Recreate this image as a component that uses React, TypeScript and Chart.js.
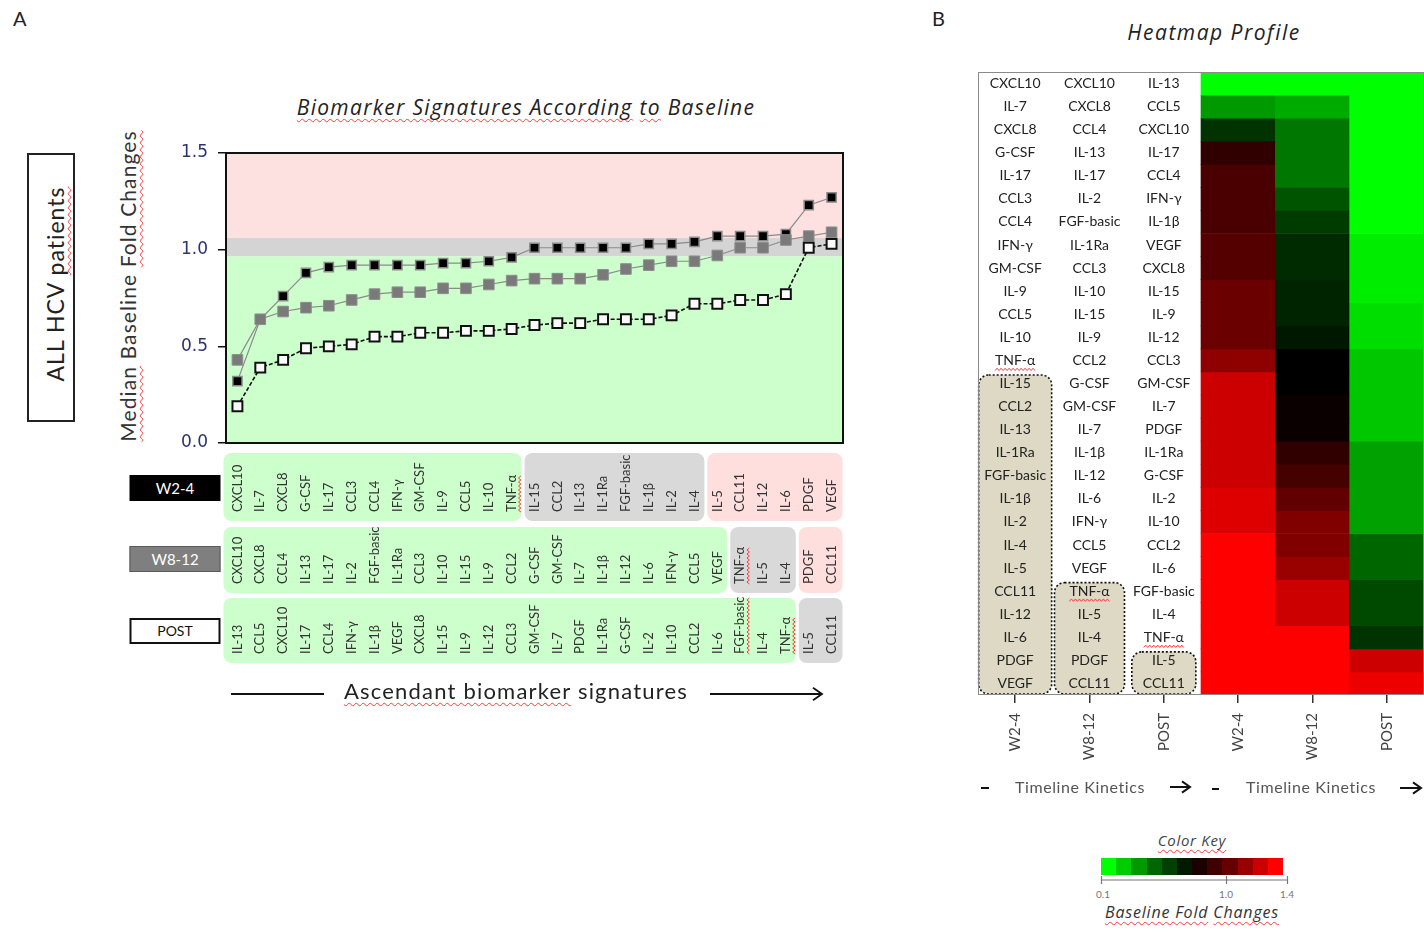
import React, { useEffect, useRef } from "react";
import { Chart, registerables } from "chart.js";

Chart.register(...registerables);

// ---------- Panel A data ----------
const RANKS = ["1","2","3","4","5","6","7","8","9","10","11","12","13","14","15","16","17","18","19","20","21","22","23","24","25","26","27"];

const W24_VALUES = [0.32, 0.64, 0.76, 0.88, 0.91, 0.92, 0.92, 0.92, 0.92, 0.93, 0.93, 0.94, 0.96, 1.01, 1.01, 1.01, 1.01, 1.01, 1.03, 1.03, 1.04, 1.07, 1.07, 1.07, 1.08, 1.23, 1.27];
const W812_VALUES = [0.43, 0.64, 0.68, 0.70, 0.71, 0.74, 0.77, 0.78, 0.78, 0.80, 0.80, 0.82, 0.84, 0.85, 0.85, 0.85, 0.87, 0.90, 0.92, 0.94, 0.94, 0.97, 1.01, 1.01, 1.05, 1.07, 1.09];
const POST_VALUES = [0.19, 0.39, 0.43, 0.49, 0.50, 0.51, 0.55, 0.55, 0.57, 0.57, 0.58, 0.58, 0.59, 0.61, 0.62, 0.62, 0.64, 0.64, 0.64, 0.66, 0.72, 0.72, 0.74, 0.74, 0.77, 1.01, 1.03];

const W24_MARKERS = ["CXCL10","IL-7","CXCL8","G-CSF","IL-17","CCL3","CCL4","IFN-γ","GM-CSF","IL-9","CCL5","IL-10","TNF-α","IL-15","CCL2","IL-13","IL-1Ra","FGF-basic","IL-1β","IL-2","IL-4","IL-5","CCL11","IL-12","IL-6","PDGF","VEGF"];
const W812_MARKERS = ["CXCL10","CXCL8","CCL4","IL-13","IL-17","IL-2","FGF-basic","IL-1Ra","CCL3","IL-10","IL-15","IL-9","CCL2","G-CSF","GM-CSF","IL-7","IL-1β","IL-12","IL-6","IFN-γ","CCL5","VEGF","TNF-α","IL-5","IL-4","PDGF","CCL11"];
const POST_MARKERS = ["IL-13","CCL5","CXCL10","IL-17","CCL4","IFN-γ","IL-1β","VEGF","CXCL8","IL-15","IL-9","IL-12","CCL3","GM-CSF","IL-7","PDGF","IL-1Ra","G-CSF","IL-2","IL-10","CCL2","IL-6","FGF-basic","IL-4","TNF-α","IL-5","CCL11"];

// counts: below baseline / around baseline / above baseline
const W24_GROUPS = [13, 8, 6];
const W812_GROUPS = [22, 3, 2];
const POST_GROUPS = [25, 2, 0];

const BASELINE_LOW = 0.965;
const BASELINE_HIGH = 1.06;

// ---------- Panel B data (signed shade: -1 bright green ... 0 black ... +1 bright red) ----------
const HEAT_COLUMNS = ["W2-4", "W8-12", "POST"];
const W24_SHADE = [-1, -0.6, -0.2, 0.19, 0.29, 0.29, 0.29, 0.33, 0.33, 0.42, 0.42, 0.42, 0.56, 0.8, 0.8, 0.8, 0.8, 0.8, 0.87, 0.87, 1, 1, 1, 1, 1, 1, 1];
const W812_SHADE = [-1, -0.67, -0.47, -0.47, -0.47, -0.33, -0.23, -0.17, -0.17, -0.14, -0.14, -0.09, 0, 0, 0.04, 0.04, 0.19, 0.27, 0.38, 0.5, 0.5, 0.6, 0.8, 0.8, 1, 1, 1];
const POST_SHADE = [-1, -1, -1, -1, -1, -1, -1, -0.93, -0.93, -0.93, -0.87, -0.87, -0.78, -0.78, -0.78, -0.78, -0.63, -0.63, -0.63, -0.63, -0.4, -0.4, -0.29, -0.29, -0.2, 0.8, 0.93];

const KEY_SHADES = [-1, -0.8, -0.6, -0.4, -0.25, -0.1, 0.1, 0.25, 0.4, 0.6, 0.8, 1];
const KEY_TICKS = ["0.1", "1.0", "1.4"];

const shadeColor = (v: number) =>
  v < 0 ? `rgb(0,${Math.round(-v * 255)},0)` : `rgb(${Math.round(v * 255)},0,0)`;

function wavy(ctx: CanvasRenderingContext2D, x0: number, x1: number, y: number) {
  ctx.save();
  ctx.strokeStyle = "#ff3b3b";
  ctx.lineWidth = 1;
  ctx.setLineDash([]);
  ctx.beginPath();
  let i = 0;
  for (let x = x0; x <= x1; x += 2, i++) {
    const yy = y + (i % 2 ? -1.2 : 1.2);
    if (i === 0) ctx.moveTo(x, yy);
    else ctx.lineTo(x, yy);
  }
  ctx.stroke();
  ctx.restore();
}

const ROWS_A = [
  { markers: W24_MARKERS, groups: W24_GROUPS, wavy: ["TNF-α"] },
  { markers: W812_MARKERS, groups: W812_GROUPS, wavy: ["TNF-α"] },
  { markers: POST_MARKERS, groups: POST_GROUPS, wavy: ["TNF-α", "FGF-basic"] },
];
const GROUP_FILLS = ["#ccffcc", "#d9d9d9", "#ffdede"];
const ROW_TOPS = [10, 84, 155];
const ROW_HEIGHTS = [68, 66, 65];

const panelAPlugin = {
  id: "panelA",
  beforeDatasetsDraw(chart: any) {
    const { ctx, chartArea: a, scales } = chart;
    const y = scales.y;
    const yh = y.getPixelForValue(BASELINE_HIGH);
    const yl = y.getPixelForValue(BASELINE_LOW);
    ctx.save();
    ctx.fillStyle = "#fde0e0";
    ctx.fillRect(a.left, a.top, a.width, yh - a.top);
    ctx.fillStyle = "#d4d4d4";
    ctx.fillRect(a.left, yh, a.width, yl - yh);
    ctx.fillStyle = "#ccffcc";
    ctx.fillRect(a.left, yl, a.width, a.bottom - yl);
    ctx.restore();
  },
  afterDatasetsDraw(chart: any) {
    const { ctx, chartArea: a } = chart;
    ctx.save();
    ctx.strokeStyle = "#111";
    ctx.lineWidth = 2;
    ctx.strokeRect(a.left, a.top, a.width, a.height);
    ctx.restore();
  },
  afterDraw(chart: any) {
    const { ctx, chartArea: a, scales } = chart;
    const xs = scales.x;
    const step = xs.getPixelForValue(1) - xs.getPixelForValue(0);
    ctx.save();
    ROWS_A.forEach((row, ri) => {
      const top = a.bottom + ROW_TOPS[ri];
      const h = ROW_HEIGHTS[ri];
      let start = 0;
      row.groups.forEach((n, gi) => {
        if (!n) return;
        let l = xs.getPixelForValue(start) - step / 2 + 1.5;
        let r = xs.getPixelForValue(start + n - 1) + step / 2 - 1.5;
        if (start === 0) l -= 4;
        if (start + n === row.markers.length) r += 1;
        ctx.beginPath();
        ctx.roundRect(l, top, r - l, h, 8);
        ctx.fillStyle = GROUP_FILLS[gi];
        ctx.fill();
        start += n;
      });
      row.markers.forEach((m, i) => {
        ctx.save();
        ctx.translate(xs.getPixelForValue(i), top + h - 9);
        ctx.rotate(-Math.PI / 2);
        ctx.font = "13px Lato";
        ctx.fillStyle = "#333";
        ctx.textAlign = "left";
        ctx.textBaseline = "middle";
        ctx.fillText(m, 0, 0);
        if (row.wavy.includes(m)) {
          wavy(ctx, 0, ctx.measureText(m).width, 8);
        }
        ctx.restore();
      });
    });
    ctx.restore();
  },
};

const panelBPlugin = {
  id: "panelB",
  afterDatasetsDraw(chart: any) {
    const { ctx, chartArea: a, scales } = chart;
    const xs = scales.x;
    const ys = scales.y;
    const cols = [W24_MARKERS, W812_MARKERS, POST_MARKERS];
    const starts = [W24_GROUPS[0], W812_GROUPS[0], POST_GROUPS[0]];
    const widths = [73, 70, 64];
    ctx.save();
    cols.forEach((labels, c) => {
      const cx = xs.getPixelForValue(c);
      const top = ys.getPixelForValue(starts[c]) + 3;
      const bottom = a.bottom - 1;
      const w = widths[c];
      ctx.beginPath();
      ctx.roundRect(cx - w / 2, top, w, bottom - top, 10);
      ctx.fillStyle = "#ddd9c4";
      ctx.fill();
      ctx.setLineDash([2, 2]);
      ctx.lineWidth = 1.6;
      ctx.strokeStyle = "#111";
      ctx.stroke();
      ctx.setLineDash([]);
      labels.forEach((m, r) => {
        const cy = ys.getPixelForValue(r + 0.5);
        ctx.font = "14px Lato";
        ctx.fillStyle = "#222";
        ctx.textAlign = "center";
        ctx.textBaseline = "middle";
        ctx.fillText(m, cx, cy);
        if (m === "TNF-α") {
          const tw = ctx.measureText(m).width;
          wavy(ctx, cx - tw / 2, cx + tw / 2, cy + 9);
        }
      });
    });
    ctx.strokeStyle = "#8a8a8a";
    ctx.lineWidth = 1;
    ctx.strokeRect(a.left + 0.5, a.top + 0.5, a.width - 1, a.height - 1);
    ctx.restore();
  },
};

const W: React.CSSProperties = {
  textDecorationLine: "underline",
  textDecorationStyle: "wavy",
  textDecorationColor: "#ff3b3b",
  textDecorationThickness: "1px",
  textUnderlineOffset: "3px",
  textDecorationSkipInk: "none",
} as any;

function Center({ cx, cy, style, children }: any) {
  return (
    <div
      style={{
        position: "absolute",
        left: cx,
        top: cy,
        transform: "translate(-50%,-50%)",
        whiteSpace: "nowrap",
        lineHeight: 1.2,
        ...style,
      }}
    >
      {children}
    </div>
  );
}

function Rot({ cx, cy, style, children }: any) {
  return (
    <div
      style={{
        position: "absolute",
        left: cx,
        top: cy,
        transform: "translate(-50%,-50%) rotate(-90deg)",
        whiteSpace: "nowrap",
        lineHeight: 1.2,
        ...style,
      }}
    >
      {children}
    </div>
  );
}

function Arrow({ x1, x2, y, head = 10, width = 1.6, dash }: any) {
  return (
    <svg
      style={{ position: "absolute", left: 0, top: 0, overflow: "visible" }}
      width={1}
      height={1}
    >
      <line x1={x1} y1={y} x2={x2} y2={y} stroke="#111" strokeWidth={width} strokeDasharray={dash} />
      {head > 0 && (
        <polyline
          points={`${x2 - head},${y - head * 0.7} ${x2},${y} ${x2 - head},${y + head * 0.7}`}
          fill="none"
          stroke="#111"
          strokeWidth={width}
        />
      )}
    </svg>
  );
}

export default function App() {
  const refA = useRef<HTMLCanvasElement | null>(null);
  const refB = useRef<HTMLCanvasElement | null>(null);

  useEffect(() => {
    const chartA = new Chart(refA.current as HTMLCanvasElement, {
      type: "line",
      data: {
        labels: RANKS,
        datasets: [
          {
            label: "POST",
            data: POST_VALUES,
            order: 0,
            borderColor: "#111",
            borderWidth: 1.6,
            borderDash: [4, 2],
            pointStyle: "rect",
            pointRadius: 7,
            pointBackgroundColor: "#fafafa",
            pointBorderColor: "#111",
            pointBorderWidth: 2,
            tension: 0,
            fill: false,
          },
          {
            label: "W8-12",
            data: W812_VALUES,
            order: 1,
            borderColor: "#8a8a8a",
            borderWidth: 1.2,
            pointStyle: "rect",
            pointRadius: 7.5,
            pointBackgroundColor: "#7a7a7a",
            pointBorderColor: "#8e8e8e",
            pointBorderWidth: 1,
            tension: 0,
            fill: false,
          },
          {
            label: "W2-4",
            data: W24_VALUES,
            order: 2,
            borderColor: "#8a8a8a",
            borderWidth: 1.2,
            pointStyle: "rect",
            pointRadius: 6.5,
            pointBackgroundColor: "#000",
            pointBorderColor: "#8a8a8a",
            pointBorderWidth: 1.5,
            tension: 0,
            fill: false,
          },
        ],
      },
      options: {
        animation: false,
        responsive: false,
        maintainAspectRatio: false,
        devicePixelRatio: 1,
        layout: { padding: { left: 0, top: 93, right: 17, bottom: 257 } },
        plugins: {
          legend: { display: false },
          tooltip: { enabled: false },
        },
        scales: {
          x: { type: "category", offset: true, display: false },
          y: {
            min: 0,
            max: 1.5,
            afterFit: (s: any) => {
              s.width = 126;
            },
            ticks: {
              stepSize: 0.5,
              callback: (v: any) => Number(v).toFixed(1),
              font: { family: "DejaVu Sans", size: 17 },
              color: "#2d3270",
              padding: 10,
            },
            grid: { drawOnChartArea: false, tickLength: 8, color: "#111", lineWidth: 1.5 },
            border: { display: true, color: "#111", width: 2 },
          },
        },
      } as any,
      plugins: [panelAPlugin],
    });

    const chartB = new Chart(refB.current as HTMLCanvasElement, {
      type: "bar",
      data: {
        labels: [...HEAT_COLUMNS, ...HEAT_COLUMNS],
        datasets: W24_MARKERS.map((_, r) => ({
          label: `row ${r + 1}`,
          data: [null, null, null, 1, 1, 1],
          backgroundColor: [
            "#fff",
            "#fff",
            "#fff",
            shadeColor(W24_SHADE[r]),
            shadeColor(W812_SHADE[r]),
            shadeColor(POST_SHADE[r]),
          ],
          borderWidth: 0,
          barPercentage: 1,
          categoryPercentage: 1,
        })),
      },
      options: {
        animation: false,
        responsive: false,
        maintainAspectRatio: false,
        devicePixelRatio: 1,
        layout: { padding: { left: 18, top: 12, right: 0, bottom: 0 } },
        plugins: {
          legend: { display: false },
          tooltip: { enabled: false },
        },
        scales: {
          x: {
            stacked: true,
            offset: true,
            afterFit: (s: any) => {
              s.height = 125;
            },
            grid: { offset: false, drawOnChartArea: false, tickLength: 8, color: "#333", lineWidth: 1.5 },
            border: { display: false },
            ticks: {
              minRotation: 90,
              maxRotation: 90,
              autoSkip: false,
              font: { family: "Lato", size: 15 },
              color: "#444",
              padding: 10,
            },
          },
          y: { stacked: true, min: 0, max: 27, reverse: true, display: false },
        },
      } as any,
      plugins: [panelBPlugin],
    });

    return () => {
      chartA.destroy();
      chartB.destroy();
    };
  }, []);

  return (
    <div
      style={{
        position: "absolute",
        left: 0,
        top: 0,
        width: 1424,
        height: 933,
        background: "#fff",
        overflow: "hidden",
        fontFamily: "Lato, sans-serif",
        color: "#222",
      }}
    >
      {/* Panel letters */}
      <div style={{ position: "absolute", left: 13, top: 6, fontSize: 20, fontFamily: "Lato" }}>A</div>
      <div style={{ position: "absolute", left: 932, top: 6, fontSize: 20, fontFamily: "Lato" }}>B</div>

      {/* Panel A titles */}
      <Center cx={526} cy={108} style={{ fontFamily: "'Open Sans'", fontStyle: "italic", fontSize: 21, letterSpacing: 1.3 }}>
        <span style={W}>Biomarker Signatures According</span> <span style={W}>to</span> Baseline
      </Center>
      <div
        style={{
          position: "absolute",
          left: 27,
          top: 153,
          width: 44,
          height: 265,
          border: "2px solid #222",
        }}
      />
      <Rot cx={56} cy={284} style={{ fontSize: 23, letterSpacing: 1 }}>
        ALL HCV <span style={W}>patients</span>
      </Rot>
      <Rot cx={128} cy={286} style={{ fontSize: 21, letterSpacing: 1.1, color: "#333" }}>
        <span style={W}>Median</span> Baseline <span style={W}>Fold Changes</span>
      </Rot>

      <canvas
        ref={refA}
        width={760}
        height={640}
        style={{ position: "absolute", left: 100, top: 60, width: 760, height: 640 }}
      />

      {/* Row label boxes */}
      <Center cx={175} cy={488} style={{ width: 91, height: 26, background: "#000", color: "#fff", fontSize: 15, display: "flex", alignItems: "center", justifyContent: "center" }}>
        W2-4
      </Center>
      <Center cx={175} cy={559} style={{ width: 89, height: 24, background: "#7f7f7f", border: "1px solid #5a5a5a", color: "#fff", fontSize: 15, display: "flex", alignItems: "center", justifyContent: "center" }}>
        W8-12
      </Center>
      <Center cx={175} cy={631} style={{ width: 87, height: 22, background: "#fff", border: "2px solid #111", color: "#111", fontSize: 14, display: "flex", alignItems: "center", justifyContent: "center" }}>
        POST
      </Center>

      <Arrow x1={231} x2={324} y={694} head={0} width={1.8} />
      <Center cx={516} cy={691} style={{ fontSize: 22, letterSpacing: 1.2 }}>
        <span style={W}>Ascendant biomarker</span> signatures
      </Center>
      <Arrow x1={710} x2={822} y={694} head={9} width={1.8} />

      {/* Panel B */}
      <Center cx={1214} cy={33} style={{ fontFamily: "'Open Sans'", fontStyle: "italic", fontSize: 21, letterSpacing: 1.5 }}>
        Heatmap Profile
      </Center>
      <canvas
        ref={refB}
        width={464}
        height={760}
        style={{ position: "absolute", left: 960, top: 60, width: 464, height: 760 }}
      />

      {/* Timeline Kinetics */}
      <Arrow x1={981} x2={989} y={788} head={0} width={2} />
      <Center cx={1080} cy={787} style={{ fontSize: 16, letterSpacing: 0.6, color: "#555" }}>Timeline Kinetics</Center>
      <Arrow x1={1170} x2={1190} y={787} head={8} width={2} />
      <Arrow x1={1212} x2={1219} y={789} head={0} width={2} />
      <Center cx={1311} cy={787} style={{ fontSize: 16, letterSpacing: 0.6, color: "#555" }}>Timeline Kinetics</Center>
      <Arrow x1={1400} x2={1421} y={788} head={8} width={2} />

      {/* Color key */}
      <Center cx={1192} cy={840} style={{ fontFamily: "'Open Sans'", fontStyle: "italic", fontSize: 15, letterSpacing: 0.7, color: "#444" }}>
        <span style={W}>Color Key</span>
      </Center>
      <div style={{ position: "absolute", left: 1101, top: 858, height: 17, width: 182, display: "flex" }}>
        {KEY_SHADES.map((s, i) => (
          <div key={i} style={{ flex: 1, background: shadeColor(s) }} />
        ))}
      </div>
      <svg style={{ position: "absolute", left: 0, top: 0, overflow: "visible" }} width={1} height={1}>
        <line x1={1101} y1={880} x2={1288} y2={880} stroke="#777" strokeWidth={1.2} />
        <line x1={1101.5} y1={876} x2={1101.5} y2={884} stroke="#777" strokeWidth={1.2} />
        <line x1={1226.5} y1={876} x2={1226.5} y2={884} stroke="#777" strokeWidth={1.2} />
        <line x1={1287.5} y1={876} x2={1287.5} y2={884} stroke="#777" strokeWidth={1.2} />
      </svg>
      <Center cx={1103} cy={894} style={{ fontSize: 10, color: "#777" }}>{KEY_TICKS[0]}</Center>
      <Center cx={1226} cy={894} style={{ fontSize: 10, color: "#777" }}>{KEY_TICKS[1]}</Center>
      <Center cx={1287} cy={894} style={{ fontSize: 10, color: "#777" }}>{KEY_TICKS[2]}</Center>
      <Center cx={1192} cy={913} style={{ fontFamily: "'Open Sans'", fontStyle: "italic", fontSize: 16, letterSpacing: 0.8, color: "#333" }}>
        <span style={W}>Baseline Fold</span> <span style={W}>Changes</span>
      </Center>
    </div>
  );
}
